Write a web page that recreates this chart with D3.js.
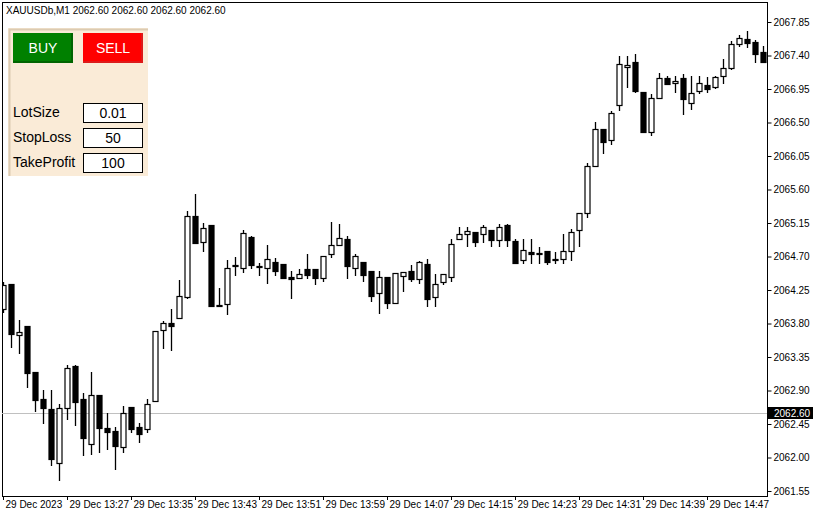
<!DOCTYPE html>
<html>
<head>
<meta charset="utf-8">
<script src="https://cdn.jsdelivr.net/npm/d3@7"></script>
<style>
  body { margin: 0; background: #fff; }
</style>
</head>
<body>
<svg id="chart" width="813" height="516" font-family="Liberation Sans"></svg>
<script>
// M1 candles from 13:19
const opens  = [2064.00,2064.33,2063.65,2063.77,2063.15,2062.79,2062.65,2061.93,2062.67,2063.23,2062.79,2062.18,2062.84,2062.40,2062.36,2062.14,2062.68,2062.41,2062.38,2062.76,2063.71,2063.81,2063.88,2064.16,2065.25,2064.90,2065.12,2064.05,2064.06,2064.59,2064.55,2064.96,2064.56,2064.55,2064.63,2064.60,2064.42,2064.41,2064.53,2064.53,2064.41,2064.73,2064.86,2064.93,2064.55,2064.63,2064.51,2064.21,2064.42,2064.08,2064.44,2064.51,2064.40,2064.60,2064.16,2064.36,2064.42,2064.93,2065.00,2065.03,2065.00,2065.06,2064.92,2065.12,2064.91,2064.65,2064.76,2064.75,2064.77,2064.67,2064.67,2064.77,2065.06,2065.28,2065.92,2066.41,2066.27,2066.74,2067.25,2067.31,2066.91,2066.37,2066.83,2067.10,2067.03,2067.10,2066.76,2066.92,2067.00,2066.98,2067.13,2067.23,2067.55,2067.62,2067.58,2067.45];
const highs  = [2064.36,2064.33,2063.85,2063.77,2063.15,2062.91,2062.91,2062.72,2063.24,2063.24,2062.87,2063.15,2062.84,2062.60,2062.41,2062.69,2062.68,2062.46,2062.79,2063.70,2063.83,2064.00,2064.38,2065.31,2065.54,2065.15,2065.12,2064.28,2064.65,2064.69,2065.06,2064.98,2064.61,2064.86,2064.68,2064.60,2064.51,2064.53,2064.73,2064.53,2064.71,2065.17,2065.14,2064.98,2064.73,2064.63,2064.51,2064.51,2064.42,2064.48,2064.49,2064.59,2064.64,2064.67,2064.47,2064.47,2064.93,2065.10,2065.10,2065.03,2065.12,2065.06,2065.14,2065.14,2064.93,2064.93,2064.93,2064.83,2064.77,2064.76,2065.00,2065.07,2065.28,2065.96,2066.51,2066.41,2066.65,2067.39,2067.39,2067.42,2066.91,2066.88,2067.17,2067.13,2067.13,2067.15,2067.13,2067.13,2067.11,2067.13,2067.35,2067.60,2067.68,2067.73,2067.61,2067.53];
const lows   = [2063.96,2063.49,2063.41,2062.95,2062.62,2062.46,2061.90,2061.70,2062.52,2062.44,2062.03,2062.05,2062.07,2062.11,2061.85,2062.07,2062.34,2062.21,2062.34,2062.76,2063.47,2063.45,2063.88,2064.14,2064.88,2064.77,2064.04,2064.03,2063.93,2064.45,2064.49,2064.55,2064.45,2064.35,2064.45,2064.41,2064.14,2064.41,2064.41,2064.33,2064.37,2064.69,2064.86,2064.41,2064.45,2064.37,2064.10,2063.94,2064.01,2064.08,2064.24,2064.37,2064.35,2064.04,2064.04,2064.33,2064.37,2064.93,2064.84,2064.84,2064.90,2064.84,2064.84,2064.84,2064.61,2064.61,2064.61,2064.61,2064.60,2064.61,2064.61,2064.65,2064.84,2065.23,2065.92,2066.09,2066.21,2066.67,2066.98,2066.91,2066.37,2066.33,2066.83,2067.02,2066.91,2066.62,2066.68,2066.90,2066.91,2066.96,2067.03,2067.22,2067.53,2067.51,2067.31,2067.31];
const closes = [2064.32,2063.66,2063.69,2063.14,2062.77,2062.67,2061.98,2062.67,2063.20,2062.75,2062.26,2062.84,2062.40,2062.34,2062.16,2062.60,2062.38,2062.32,2062.72,2063.70,2063.81,2063.77,2064.17,2065.25,2064.88,2065.08,2064.04,2064.03,2064.55,2064.58,2065.02,2064.59,2064.57,2064.67,2064.51,2064.41,2064.40,2064.47,2064.45,2064.41,2064.71,2064.86,2064.95,2064.57,2064.71,2064.45,2064.17,2064.42,2064.08,2064.48,2064.49,2064.40,2064.63,2064.13,2064.33,2064.47,2064.87,2065.00,2065.04,2064.90,2065.10,2064.92,2065.10,2064.92,2064.61,2064.79,2064.73,2064.73,2064.63,2064.66,2064.77,2065.03,2065.28,2065.92,2066.41,2066.24,2066.63,2067.29,2067.27,2066.92,2066.37,2066.83,2067.10,2067.02,2067.06,2066.82,2066.90,2067.03,2066.95,2067.11,2067.23,2067.55,2067.64,2067.57,2067.42,2067.31];
const priceTicks = [2067.85,2067.40,2066.95,2066.50,2066.05,2065.60,2065.15,2064.70,2064.25,2063.80,2063.35,2062.90,2062.45,2062.00,2061.55];
const timeLabels = ["29 Dec 2023","29 Dec 13:27","29 Dec 13:35","29 Dec 13:43","29 Dec 13:51","29 Dec 13:59","29 Dec 14:07","29 Dec 14:15","29 Dec 14:23","29 Dec 14:31","29 Dec 14:39","29 Dec 14:47"];
const bidPrice = 2062.60;
const symbolInfo = "XAUUSDb,M1  2062.60 2062.60 2062.60 2062.60";
const fieldLabels = ["LotSize","StopLoss","TakeProfit"];
const fieldValues = ["0.01","50","100"];

const svg = d3.select('#chart');
const plotL = 2, plotT = 2, plotR = 767, plotB = 496;
const small = 10;

const x = d3.scaleLinear().domain([0, 95]).range([3, 763]);
const y = d3.scaleLinear().domain([2061.55, 2067.85]).range([491, 22]);

const candles = opens.map((o, i) => ({i, o, h: highs[i], l: lows[i], c: closes[i]}));

// frame
svg.append('rect').attr('x', plotL + 0.5).attr('y', plotT + 0.5)
  .attr('width', plotR - plotL).attr('height', plotB - plotT)
  .attr('fill', 'none').attr('stroke', '#000');

// bid line
svg.append('line').attr('x1', plotL).attr('x2', plotR)
  .attr('y1', Math.round(y(bidPrice)) + 0.5).attr('y2', Math.round(y(bidPrice)) + 0.5)
  .attr('stroke', '#c0c0c0');

// price axis
const yAxis = d3.axisRight(y).tickValues(priceTicks).tickFormat(d3.format('.2f')).tickSize(4).tickPadding(2);
const ya = svg.append('g').attr('transform', `translate(${plotR + 0.5},0)`).call(yAxis);
ya.select('.domain').remove();
ya.attr('font-family', 'Liberation Sans').attr('font-size', small);
ya.selectAll('text').attr('fill', '#000');

// bid label
const bg = svg.append('g').attr('transform', `translate(${plotR + 1},${Math.round(y(bidPrice))})`);
bg.append('rect').attr('x', 0).attr('y', -6).attr('width', 46).attr('height', 12).attr('fill', '#000');
bg.append('text').attr('x', 6).attr('y', 4).attr('font-size', small).attr('fill', '#fff').text(bidPrice.toFixed(2));

// time axis
const tg = svg.append('g');
timeLabels.forEach((t, k) => {
  const xi = Math.round(x(k * 8)) + 0.5;
  tg.append('line').attr('x1', xi).attr('x2', xi).attr('y1', plotB).attr('y2', plotB + 4).attr('stroke', '#000');
  tg.append('text').attr('x', xi + 2).attr('y', plotB + 12).attr('font-size', small).text(t);
});

// candles
svg.append('clipPath').attr('id', 'clip').append('rect').attr('x', plotL + 1).attr('y', plotT + 1)
  .attr('width', plotR - plotL - 1).attr('height', plotB - plotT - 1);
const cg = svg.append('g').attr('clip-path', 'url(#clip)');

cg.selectAll('line.wick').data(candles).join('line')
  .attr('x1', d => Math.round(x(d.i)) + 0.5).attr('x2', d => Math.round(x(d.i)) + 0.5)
  .attr('y1', d => Math.round(y(d.h))).attr('y2', d => Math.round(y(d.l)) + 1)
  .attr('stroke', '#000').attr('stroke-width', 1.3);

cg.selectAll('rect.body').data(candles).join('rect')
  .attr('x', d => Math.round(x(d.i)) - 2)
  .attr('y', d => Math.round(y(Math.max(d.o, d.c))) + 0.5)
  .attr('width', 5)
  .attr('height', d => Math.max(1, Math.round(y(Math.min(d.o, d.c))) - Math.round(y(Math.max(d.o, d.c)))))
  .attr('fill', d => d.c >= d.o ? '#fff' : '#000')
  .attr('stroke', '#000').attr('stroke-width', 1.2);

// symbol caption
svg.append('text').attr('x', 6).attr('y', 14).attr('font-size', small).text(symbolInfo);

// trade panel
const p = svg.append('g');
p.append('rect').attr('x', 8).attr('y', 28).attr('width', 140).attr('height', 148).attr('fill', '#faebd7');
p.append('path').attr('d', 'M9.5,176 V29.5 H148').attr('fill', 'none').attr('stroke', '#dccbb2').attr('stroke-width', 2);

[['BUY', 13, '#008000', '#006400'], ['SELL', 83, '#ff0000', '#dd1a1a']].forEach(([t, bx, c, edge]) => {
  p.append('rect').attr('x', bx).attr('y', 33).attr('width', 60).attr('height', 30).attr('fill', c);
  p.append('path').attr('d', `M${bx},62 H${bx + 59} V33`).attr('fill', 'none').attr('stroke', edge).attr('stroke-width', 2);
  p.append('text').attr('x', bx + 30).attr('y', 53).attr('text-anchor', 'middle')
    .attr('font-size', 14).attr('fill', '#fff').text(t);
});

fieldLabels.forEach((t, k) => {
  const fy = 103 + k * 25;
  p.append('text').attr('x', 13).attr('y', fy + 14).attr('font-size', 14).text(t);
  p.append('rect').attr('x', 83.5).attr('y', fy + 0.5).attr('width', 59).attr('height', 19)
    .attr('fill', '#fff').attr('stroke', '#000');
  p.append('text').attr('x', 113).attr('y', fy + 15).attr('text-anchor', 'middle')
    .attr('font-size', 14).text(fieldValues[k]);
});
</script>
</body>
</html>
